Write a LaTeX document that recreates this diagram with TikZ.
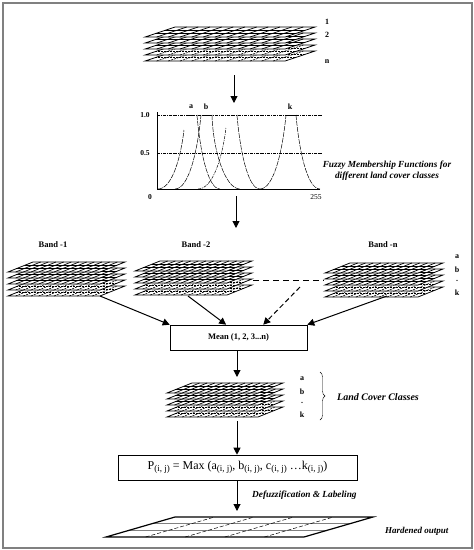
\documentclass[tikz,border=0pt]{standalone}
\usepackage{fontspec}
\setmainfont{Liberation Serif}
\usetikzlibrary{arrows.meta,decorations.pathreplacing,calc}
\newcommand\sbij{\raisebox{-2.4pt}{\fontsize{9}{10}\selectfont (i, j)}}
\newcommand\glayer[6]{%
  \fill[white] (#1,#2+#5) -- (#1+#3,#2+#5) -- (#1+#3+#4,#2) -- (#1+#4,#2) -- cycle;
  \foreach \t in {0.333,0.667}
    \draw[grid#6] (#1+#4*\t,#2+#5-#5*\t) -- (#1+#3+#4*\t,#2+#5-#5*\t);
  \foreach \u in {1,...,11}
    \draw[grid#6] (#1+#3*\u/12,#2+#5) -- (#1+#3*\u/12+#4,#2);
  \draw[layeredge] (#1,#2+#5) -- (#1+#3,#2+#5) -- (#1+#3+#4,#2) -- (#1+#4,#2) -- cycle;
}
\newcommand\lstack[5]{%
  \foreach \i in {4,3,2,1,0}{%
    \pgfmathsetmacro\yy{#2+6*\i}%
    \ifnum\i>2 \glayer{#1}{\yy}{#3}{#4}{#5}{B}\else\glayer{#1}{\yy}{#3}{#4}{#5}{A}\fi
  }%
}
\begin{document}
\begin{tikzpicture}[x=1pt,y=-1pt,
  gridA/.style={line width=0.7pt},
  gridB/.style={line width=0.6pt,dash pattern=on 2pt off 1pt},
  layeredge/.style={line width=0.8pt},
  arr/.style={-{Triangle[length=7pt,width=7pt]},line width=1pt},
  lbl/.style={font=\fontsize{8}{9}\selectfont\bfseries,inner sep=0pt},
  note/.style={font=\fontsize{9}{11}\selectfont\bfseries\itshape,inner sep=0pt},
  curve/.style={line width=0.5pt,dash pattern=on 5pt off 1pt},
  box/.style={draw,line width=0.6pt,inner sep=0pt}]
\useasboundingbox (0,0) rectangle (474,550);
\draw[gray,line width=1.3pt] (3,3) rectangle (472,548);

% top stack
\lstack{145}{27}{140}{30}{10}
\coordinate (topout) at (234,75);
\node[lbl] (l1) at (327,22) {1};
\node[lbl] (l2) at (327,35) {2};
\node[lbl] (ln) at (327,62) {n};

% chart
\coordinate (chartin) at (234,103);
\coordinate (chartout) at (236,196);
\draw[arr] (topout) -- (chartin);
\draw[line width=0.5pt] (157,112) -- (157,189) -- (320,189);
\draw[line width=0.4pt,dash pattern=on 3pt off 1pt on 0.8pt off 1pt] (157,115) -- (322,115);
\draw[line width=0.4pt,dash pattern=on 3pt off 1pt on 0.8pt off 1pt] (157,153) -- (322,153);
\node[lbl,font=\fontsize{7.5}{9}\selectfont\bfseries] (y1) at (145,115) {1.0};
\node[lbl,font=\fontsize{7.5}{9}\selectfont\bfseries] (y05) at (145,153) {0.5};
\node[lbl,font=\fontsize{7.5}{9}\selectfont\bfseries] (x0) at (150,197) {0};
\node[inner sep=0pt,font=\fontsize{7.5}{9}\selectfont] (x255) at (316,197) {255};
\node[lbl] (ca) at (191,107) {a};
\node[lbl] (cb) at (206,107) {b};
\node[lbl] (ck) at (290,107) {k};
\draw[curve] (158,189) .. controls (172.3,189) and (180.9,156.6) .. (184,130);
\draw[curve] (197,115) .. controls (199.8,148.3) and (207.4,189) .. (220,189);
\draw[curve] (175,189) .. controls (189.3,189) and (197.9,148.3) .. (201,115);
\draw[curve] (212,115) .. controls (213,150) and (225,189) .. (240,189);
\draw[line width=0.5pt,dash pattern=on 3pt off 1pt on 1pt off 1pt] (198,189) .. controls (213.4,189) and (222.6,155.5) .. (226,128);
\draw[curve] (237,115) .. controls (239.8,148.3) and (247.4,189) .. (260,189);
\draw[curve] (260,189) .. controls (274.3,189) and (282.9,148.3) .. (286,115);
\draw[curve] (296,115) .. controls (298.9,148.3) and (306.8,189) .. (320,189);
\draw[line width=1pt] (186,115) -- (195,115);
\draw[line width=1pt] (203,115) -- (211,115);
\draw[line width=1pt] (286,115) -- (296,115);
\node[note,align=center,font=\fontsize{9.3}{11}\selectfont\bfseries\itshape] (fmf) at (387,171) {Fuzzy Membership Functions for\\different land cover classes};

\coordinate (bandsin) at (236,228);
\draw[arr] (chartout) -- (bandsin);

% bands
\node[lbl,font=\fontsize{8.5}{10}\selectfont\bfseries] (b1) at (53,245) {Band -1};
\node[lbl,font=\fontsize{8.5}{10}\selectfont\bfseries] (b2) at (196,245) {Band -2};
\node[lbl,font=\fontsize{8.5}{10}\selectfont\bfseries] (bn) at (383,245) {Band -n};
\lstack{8}{262}{92}{25}{10}
\lstack{135}{261}{92}{25}{10}
\lstack{325}{263}{93}{25}{10}
\node[lbl] (na) at (457,257) {a};
\node[lbl] (nb) at (457,270) {b};
\node[lbl] (nd) at (457,281) {.};
\node[lbl] (nk) at (457,293) {k};
\coordinate (s1out) at (100,296);
\coordinate (s2out) at (188,296);
\coordinate (s2r) at (253,280);
\coordinate (snl) at (324,280);
\coordinate (dmid) at (300,287);
\coordinate (snout) at (387,296);
\draw[line width=1pt,dash pattern=on 6pt off 4pt] (s2r) -- (snl);

\node[box,minimum width=137pt,minimum height=25pt,font=\fontsize{8.5}{10}\selectfont\bfseries] (mean) at (238.5,337.5) {Mean (1, 2, 3...n)};
\draw[arr] (s1out) -- (mean.north west);
\draw[arr] (s2out) -- ($(mean.north west)!0.41!(mean.north east)$);
\draw[arr,dash pattern=on 5pt off 3pt] (dmid) -- ($(mean.north west)!0.68!(mean.north east)$);
\draw[arr] (snout) -- (mean.north east);

% classes stack
\lstack{167}{383}{91}{25}{10}
\coordinate (csin) at (237,377);
\coordinate (csout) at (237,421);
\draw[arr] (mean.south -| csin) -- (csin);
\node[lbl] (ma) at (302,379) {a};
\node[lbl] (mb) at (302,392) {b};
\node[lbl] (md) at (302,403) {.};
\node[lbl] (mk) at (302,415) {k};
\coordinate (brt) at (320,372);
\coordinate (brb) at (320,420);
\draw[line width=0.4pt,decorate,decoration={brace,amplitude=5pt}] (brt) -- (brb);
\node[note,anchor=west,font=\fontsize{10}{12}\selectfont\bfseries\itshape] (lcc) at (337,397) {Land Cover Classes};

\node[box,minimum width=239pt,minimum height=25pt,font=\fontsize{12}{13}\selectfont] (pbox) at (237.5,467.5) {P\sbij{} = Max (a\sbij, b\sbij, c\sbij{} \dots k\sbij)};
\draw[arr] (csout) -- (pbox.north -| csout);
\coordinate (outin) at (237,511);
\draw[arr] (pbox.south -| outin) -- (outin);
\node[note,anchor=west,font=\fontsize{9.3}{11}\selectfont\bfseries\itshape] (defz) at (252,495) {Defuzzification \& Labeling};

% hardened output grid
\coordinate (o1) at (106,537);
\coordinate (o2) at (304,537);
\coordinate (o3) at (373,517);
\coordinate (o4) at (175,517);
\foreach \t in {0.333,0.667}
  \draw[gray,line width=0.5pt] ($(o1)!\t!(o4)$) -- ($(o2)!\t!(o3)$);
\foreach \u in {0.2,0.4,0.6,0.8}
  \draw[line width=0.5pt,dash pattern=on 4pt off 2pt] ($(o1)!\u!(o2)$) -- ($(o4)!\u!(o3)$);
\draw[line width=1.2pt] (o1) -- (o2) -- (o3) -- (o4) -- cycle;
\node[note,anchor=west] (hard) at (385,531) {Hardened output};
\end{tikzpicture}
\end{document}
